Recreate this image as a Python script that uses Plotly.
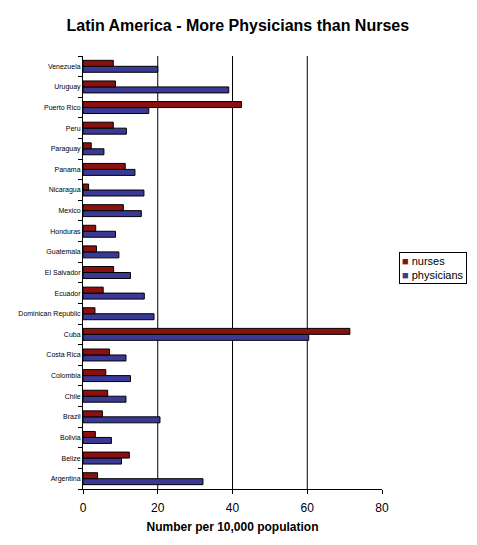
import plotly.graph_objects as go

# countries, bottom to top as drawn
countries = ['Argentina', 'Belize', 'Bolivia', 'Brazil', 'Chile', 'Colombia', 'Costa Rica',
             'Cuba', 'Dominican Republic', 'Ecuador', 'El Salvador', 'Guatemala', 'Honduras',
             'Mexico', 'Nicaragua', 'Panama', 'Paraguay', 'Peru', 'Puerto Rico', 'Uruguay',
             'Venezuela']

nurses = [3.9, 12.4, 3.3, 5.2, 6.6, 6.1, 7.1, 71.4, 3.2, 5.4, 8.2, 3.6, 3.4,
          10.8, 1.5, 11.3, 2.2, 8.1, 42.4, 8.7, 8.1]
physicians = [32.1, 10.3, 7.6, 20.6, 11.5, 12.7, 11.5, 60.4, 19.0, 16.4, 12.7, 9.6, 8.7,
              15.6, 16.3, 13.9, 5.6, 11.6, 17.6, 39.0, 20.0]

x_ticks = [0, 20, 40, 60, 80]

nurse_col = '#8B1010'
phys_col = '#3A3A96'
fnt = 'Arial, Liberation Sans, sans-serif'

fig = go.Figure()
# physicians first so nurses sit on top within each pair
fig.add_trace(go.Bar(y=countries, x=physicians, name='physicians', orientation='h',
                     marker=dict(color=phys_col, line=dict(color='black', width=1)),
                     showlegend=False))
fig.add_trace(go.Bar(y=countries, x=nurses, name='nurses', orientation='h',
                     marker=dict(color=nurse_col, line=dict(color='black', width=1)),
                     showlegend=False))

for v in x_ticks[1:-1]:
    fig.add_vline(x=v, line=dict(color='black', width=1), layer='below')

# small boxed legend to the right, like the original
legend_txt = ('<span style="color:%s">&#9632;</span> nurses<br>'
              '<span style="color:%s">&#9632;</span> physicians') % (nurse_col, phys_col)
fig.add_annotation(text=legend_txt, xref='paper', yref='paper', x=1.057, y=0.51,
                   xanchor='left', yanchor='middle', align='left', showarrow=False,
                   font=dict(size=11, family=fnt, color='black'),
                   bordercolor='black', borderwidth=1, borderpad=2, bgcolor='white')

# page body adds an 8px offset, so the figure is 8px smaller than the window
fig.update_layout(
    width=469, height=537,
    margin=dict(l=75, r=95, t=48, b=56, autoexpand=False),
    paper_bgcolor='white', plot_bgcolor='white',
    barmode='group', bargap=0.42, bargroupgap=0,
    font=dict(family=fnt, color='black'),
    title=dict(text='<b>Latin America - More Physicians than Nurses</b>',
               x=0.49, xanchor='center', y=0.968, yanchor='middle',
               font=dict(size=16, family=fnt, color='black')),
)

fig.update_xaxes(range=[0, 80], tickvals=x_ticks, showgrid=False, zeroline=False,
                 showline=True, linecolor='black', linewidth=1,
                 ticks='outside', ticklen=4, tickcolor='black', ticklabelstandoff=4,
                 tickfont=dict(size=12, family=fnt),
                 title=dict(text='<b>Number per 10,000 population</b>',
                            font=dict(size=12, family=fnt), standoff=8))
fig.update_yaxes(showgrid=False, zeroline=False, showline=True, linecolor='black', linewidth=1,
                 ticks='outside', ticklen=4, tickcolor='black', tickson='boundaries',
                 tickfont=dict(size=7, family=fnt), automargin=False)

fig.write_html("out.html")
